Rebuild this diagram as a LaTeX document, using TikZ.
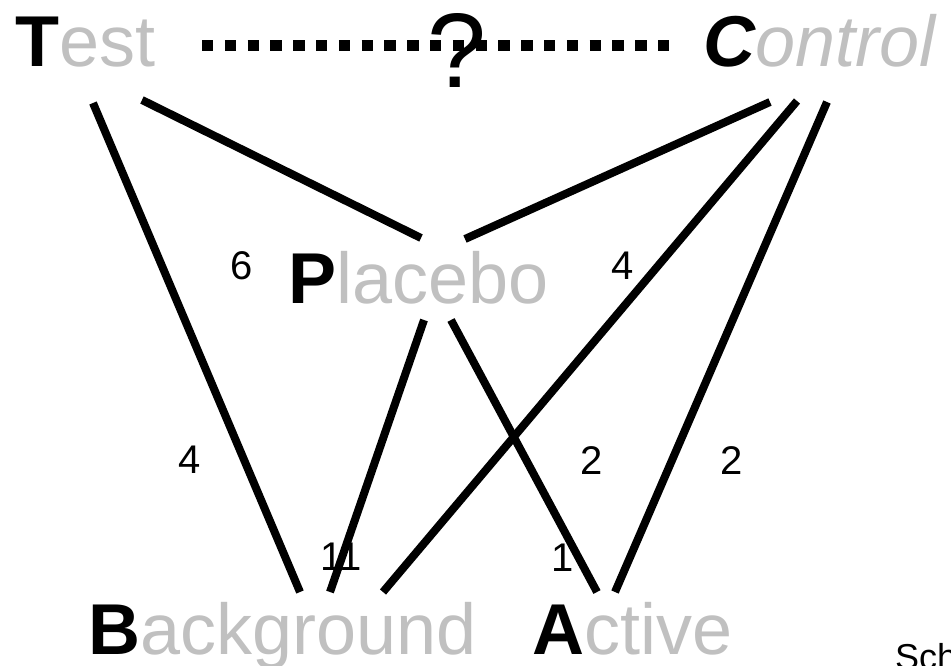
\documentclass[tikz,border=0pt]{standalone}
\usepackage{fontspec}
\setmainfont{Liberation Sans}
\definecolor{lgray}{HTML}{C0C0C0}
\begin{document}
\begin{tikzpicture}[x=1pt,y=-1pt,
  conn/.style={line width=8pt},
  big/.style={inner sep=0pt, anchor=base west, font=\fontsize{72}{80}\selectfont},
  num/.style={inner sep=0pt, font=\fontsize{40}{44}\selectfont},
  dotline/.style={line width=11pt, dash pattern=on 11.4pt off 11.4pt},
]
\useasboundingbox (0,0) rectangle (951,666);
% labels
\node[big] (test) at (15,67) {\textbf{T}\textcolor{lgray}{est}};
\node[big] (control) at (703,67) {\itshape\textbf{C}\textcolor{lgray}{ontrol}};
\node[big] (placebo) at (288,303) {\textbf{P}\textcolor{lgray}{lacebo}};
\node[big] (background) at (88,654) {\textbf{B}\textcolor{lgray}{ackground}};
\node[big] (active) at (532,654) {\textbf{A}\textcolor{lgray}{ctive}};
\node[inner sep=0pt, anchor=base west, font=\fontsize{36}{40}\selectfont] (sch) at (895,669) {Sch};
% question
\coordinate (dL) at (202,46);
\coordinate (dR) at (670,46);
\draw[dotline] (dL) -- (dR);
\node[inner sep=0pt, anchor=base, font=\fontsize{106}{110}\selectfont] (q) at (457,88) {?};
% endpoints
\coordinate (tB) at (93,103);
\coordinate (tP) at (142,100);
\coordinate (cP) at (770,102);
\coordinate (cB) at (797,101);
\coordinate (cA) at (827,102);
\coordinate (pT) at (421,238);
\coordinate (pC) at (465,239);
\coordinate (pB) at (424,320);
\coordinate (pA) at (451,320);
\coordinate (bT) at (300,592);
\coordinate (bP) at (330,592);
\coordinate (bC) at (383,592);
\coordinate (aP) at (597,592);
\coordinate (aC) at (615,592);
% connectors
\draw[conn] (tB) -- (bT);
\draw[conn] (tP) -- (pT);
\draw[conn] (cP) -- (pC);
\draw[conn] (cB) -- (bC);
\draw[conn] (cA) -- (aC);
\draw[conn] (pB) -- (bP);
\draw[conn] (pA) -- (aP);
% numbers
\node[num] (n6) at (242,266) {6};
\node[num] (n4a) at (623,266) {4};
\node[num] (n4b) at (190,460) {4};
\node[num] (n2a) at (592,461) {2};
\node[num] (n2b) at (732,461) {2};
\node[num] (n11) at (341,557) {11};
\node[num] (n1) at (563,558) {1};
\end{tikzpicture}
\end{document}
